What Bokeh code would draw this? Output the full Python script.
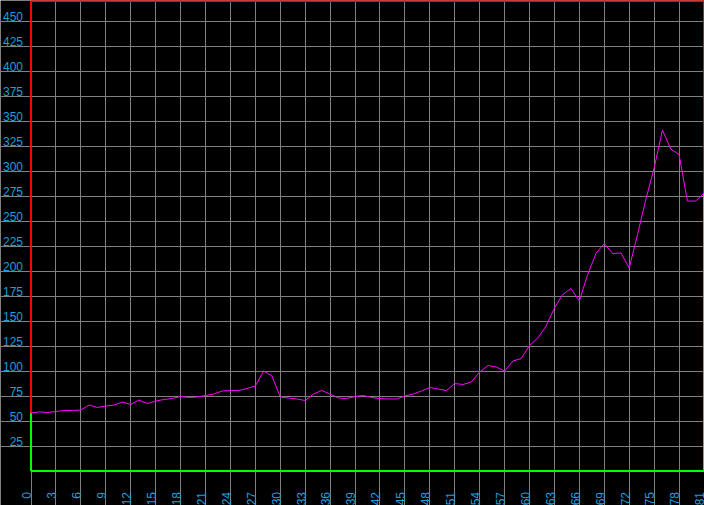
import math
from bokeh.plotting import figure
from bokeh.models import Range1d, FixedTicker, LinearAxis, Grid
from bokeh.embed import file_html
from bokeh.resources import INLINE

# ---- data ----
x_values = list(range(0, 82))
y_values = [58, 59, 58.5, 59.5, 60.5, 60.5, 61, 66, 63.5, 65,
            66, 69, 66.5, 71, 67.5, 70, 71.5, 72.5, 74.5, 73.5,
            74, 75.5, 77, 80, 80.5, 80.5, 82.5, 85, 100, 95,
            74, 73, 72, 70.5, 77, 80.5, 77, 73, 72.5, 74.5,
            75.5, 73.5, 72.5, 72, 72, 75, 77, 80, 83.5, 82,
            80.5, 87.5, 86.5, 89, 99, 105.5, 104, 100, 110, 112.5,
            125.5, 133, 145, 163, 176.5, 182.5, 170, 196.5, 217.5, 227.5,
            217.5, 218, 203, 236.5, 271.5, 303, 341, 322, 316.5, 270,
            270, 278]
x_ticks = list(range(0, 82, 3))
y_ticks = list(range(25, 451, 25))

# ---- layout / style ----
W, H = 704, 505
LEFT_PX, RIGHT_PX = 30.5, 703.5     # pixel of first / last x
ZERO_PX = 470.5                      # pixel of y = 0 (1 px per unit)
Y_TOP = 470
LABEL_COLOR = "#1c9fdc"
X_LABEL_SHIFT = 0.5   # labels sit just left of their grid line
Y_LABEL_SHIFT = 4.5   # labels sit just above their grid line

sx = (RIGHT_PX - LEFT_PX) / (x_values[-1] - x_values[0])
X_START = x_values[0] - LEFT_PX / sx
X_END = x_values[-1] + (W - RIGHT_PX) / sx
Y_START = -(H - ZERO_PX)
Y_END = ZERO_PX

p = figure(width=W, height=H, output_backend="svg", toolbar_location=None,
           x_range=Range1d(X_START, X_END), y_range=Range1d(Y_START, Y_END),
           x_axis_type=None, y_axis_type=None,
           min_border_left=0, min_border_right=0, min_border_top=0,
           min_border_bottom=0)
p.background_fill_color = "black"
p.border_fill_color = "black"
p.outline_line_color = None

p.extra_x_ranges = {"lab": Range1d(X_START + X_LABEL_SHIFT, X_END + X_LABEL_SHIFT)}
p.extra_y_ranges = {"lab": Range1d(Y_START - Y_LABEL_SHIFT, Y_END - Y_LABEL_SHIFT)}

for dim, ticks in ((0, x_ticks), (1, y_ticks)):
    g = Grid(dimension=dim, ticker=FixedTicker(ticks=ticks))
    g.grid_line_color = "#808080"
    g.grid_line_width = 1
    g.grid_line_alpha = 1
    p.add_layout(g)

xaxis = LinearAxis(x_range_name="lab", ticker=FixedTicker(ticks=x_ticks),
                   fixed_location=0)
yaxis = LinearAxis(y_range_name="lab", ticker=FixedTicker(ticks=y_ticks),
                   fixed_location=x_values[0])
for ax in (xaxis, yaxis):
    ax.axis_line_color = None
    ax.major_tick_line_color = None
    ax.minor_tick_line_color = None
    ax.major_tick_out = 0
    ax.major_tick_in = 0
    ax.major_label_text_color = LABEL_COLOR
    ax.major_label_text_font = "Liberation Sans"
    ax.major_label_text_font_size = "12px"
xaxis.major_label_orientation = math.pi / 2
xaxis.major_label_standoff = 21
yaxis.major_label_standoff = 8
p.add_layout(xaxis, "below")
p.add_layout(yaxis, "left")

x0, x1 = x_values[0], x_values[-1]
# frame-style borders
p.segment(x0=[x0], y0=[Y_TOP], x1=[x1], y1=[Y_TOP], line_color="red", line_width=2)
p.segment(x0=[x0], y0=[0], x1=[x1], y1=[0], line_color="#00ff00", line_width=2)
p.segment(x0=[x0, x1], y0=[0, 0], x1=[x0, x1], y1=[y_values[0], y_values[-1]],
          line_color="#00ff00", line_width=2)
p.segment(x0=[x0, x1], y0=[y_values[0], y_values[-1]], x1=[x0, x1], y1=[Y_TOP, Y_TOP],
          line_color="red", line_width=2)

p.line(x_values, y_values, line_color="#ff00ff", line_width=1)

open("out.html", "w").write(file_html(p, INLINE))
